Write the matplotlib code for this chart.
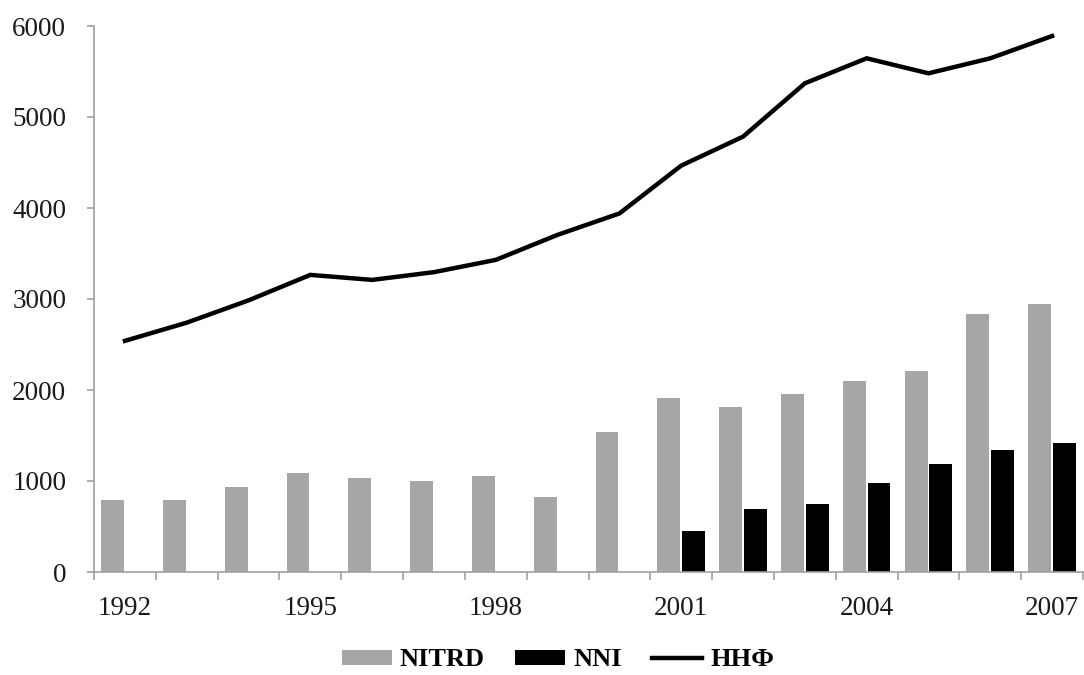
import matplotlib
matplotlib.use("Agg")
import matplotlib.pyplot as plt
import numpy as np

years = list(range(1992, 2008))
nitrd = [790, 790, 935, 1085, 1030, 1000, 1055, 825, 1535, 1915, 1810, 1960, 2095, 2205, 2840, 2950]
nni = [np.nan] * 9 + [455, 695, 750, 975, 1185, 1340, 1415]
hhf = [2540, 2740, 2985, 3265, 3210, 3295, 3430, 3705, 3940, 4466, 4784, 5370, 5645, 5480, 5645, 5890]
label_years = [1992, 1995, 1998, 2001, 2004, 2007]
yticks = [0, 1000, 2000, 3000, 4000, 5000, 6000]

plt.rcParams['font.family'] = ['Liberation Serif', 'DejaVu Serif']

fig = plt.figure(figsize=(10.84, 6.75), dpi=100)
ax = fig.add_axes([94/1084, 1 - 572/675, (1083 - 94)/1084, (572 - 26)/675])

x = np.arange(len(years))
w = 0.37
off = 0.2
b1 = ax.bar(x - off, nitrd, width=w, color='#a6a6a6', label='NITRD', zorder=2)
b2 = ax.bar(x + off, nni, width=w, color='#000000', label='NNI', zorder=2)
l1, = ax.plot(x, hhf, color='#000000', linewidth=3.2, label='ННФ', zorder=3,
              solid_joinstyle='miter')

ax.set_xlim(-0.5, len(years) - 0.5)
ax.set_ylim(0, 6000)
ax.set_yticks(yticks)
ax.set_yticklabels([str(v) for v in yticks])

ax.set_xticks([years.index(y) for y in label_years])
ax.set_xticklabels([str(y) for y in label_years])
ax.set_xticks(np.arange(-0.5, len(years)), minor=True)

for s in ['top', 'right']:
    ax.spines[s].set_visible(False)
for s in ['left', 'bottom']:
    ax.spines[s].set_color('#a0a0a0')
    ax.spines[s].set_linewidth(1.2)

ax.tick_params(axis='x', which='major', length=0, pad=17, labelsize=19.5, labelcolor='#1a1a1a')
ax.tick_params(axis='x', which='minor', length=6, width=1.2, color='#a0a0a0', direction='out')
ax.tick_params(axis='y', which='major', length=5, width=1.2, color='#a0a0a0', pad=15,
               labelsize=19.5, labelcolor='#1a1a1a')

fig.legend(handles=[b1, b2, l1], labels=['NITRD', 'NNI', 'ННФ'],
           loc='center', bbox_to_anchor=(558/1084, 1 - 660/675), ncol=3, frameon=False,
           prop={'weight': 'bold', 'size': 19}, handlelength=1.9, handleheight=0.5,
           handletextpad=0.3, columnspacing=1.15, borderaxespad=0)

fig.savefig('out.png', dpi=100, facecolor='white')
